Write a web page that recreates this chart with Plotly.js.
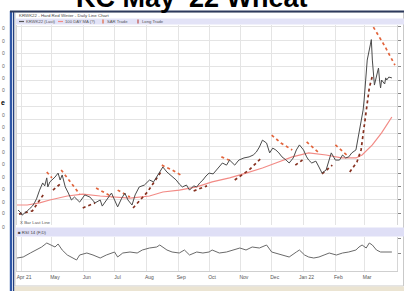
<!DOCTYPE html>
<html><head><meta charset="utf-8">
<script src="https://cdn.plot.ly/plotly-3.0.1.min.js"></script>
<style>html,body{margin:0;padding:0;background:#fff;}#chart{width:404px;height:291px;}</style>
</head><body><div id="chart"></div>
<script>
// ---------- data ----------
const monthTicks = ["2021-04-01","2021-05-01","2021-06-01","2021-07-01","2021-08-01","2021-09-01","2021-10-01","2021-11-01","2021-12-01","2022-01-01","2022-02-01","2022-03-01"];
const monthLabels = ["Apr 21","May","Jun","Jul","Aug","Sep","Oct","Nov","Dec","Jan 22","Feb","Mar"];

const priceDates = ["2021-03-29","2021-03-31","2021-04-02","2021-04-05","2021-04-07","2021-04-09","2021-04-12","2021-04-14","2021-04-16","2021-04-19",
"2021-04-22","2021-04-24","2021-04-26","2021-04-27","2021-04-29","2021-05-01","2021-05-04","2021-05-07","2021-05-09","2021-05-11",
"2021-05-14","2021-05-17","2021-05-20","2021-05-23","2021-05-28","2021-06-02","2021-06-07","2021-06-12","2021-06-17","2021-06-19",
"2021-06-23","2021-06-28","2021-07-01","2021-07-04","2021-07-08","2021-07-11","2021-07-14","2021-07-18","2021-07-21","2021-07-25",
"2021-07-30","2021-08-04","2021-08-08","2021-08-11","2021-08-14","2021-08-17","2021-08-21","2021-08-24","2021-08-27","2021-08-30",
"2021-09-02","2021-09-05","2021-09-09","2021-09-12","2021-09-16","2021-09-19","2021-09-22","2021-09-25","2021-09-28","2021-10-01",
"2021-10-05","2021-10-08","2021-10-11","2021-10-14","2021-10-18","2021-10-21","2021-10-26","2021-10-30","2021-11-04","2021-11-09",
"2021-11-13","2021-11-16","2021-11-19","2021-11-22","2021-11-26","2021-11-29","2021-12-02","2021-12-05","2021-12-08","2021-12-11",
"2021-12-15","2021-12-18","2021-12-22","2021-12-25","2021-12-28","2022-01-01","2022-01-04","2022-01-06","2022-01-09","2022-01-13",
"2022-01-16","2022-01-19","2022-01-23","2022-01-26","2022-01-28","2022-02-01","2022-02-05","2022-02-08","2022-02-11","2022-02-14",
"2022-02-17","2022-02-21","2022-02-24","2022-02-25","2022-02-28","2022-03-01","2022-03-02","2022-03-03","2022-03-04","2022-03-07",
"2022-03-08","2022-03-09","2022-03-10","2022-03-11","2022-03-14","2022-03-15","2022-03-16","2022-03-17","2022-03-18","2022-03-21",
"2022-03-22","2022-03-23","2022-03-25","2022-03-28"];
const priceValues = [6.11,6.04,5.92,6.00,6.08,6.15,6.26,6.38,6.53,6.86,
7.13,7.02,7.32,6.98,7.17,7.24,7.35,7.50,7.24,7.43,
6.98,6.75,6.49,6.60,6.41,6.68,6.60,6.38,6.49,6.26,
6.49,6.75,6.49,6.23,6.56,6.75,6.49,6.30,6.68,6.98,
7.05,7.24,7.17,7.35,7.54,7.73,7.54,7.43,7.32,7.24,
7.09,6.98,7.05,6.86,7.02,6.98,7.13,7.24,7.39,7.50,
7.47,7.62,7.77,7.88,7.80,7.99,7.80,7.99,8.07,8.11,
8.18,8.29,8.48,8.74,8.63,8.26,8.44,8.37,8.26,8.11,
7.99,7.88,8.07,8.37,8.56,8.37,8.11,7.99,7.88,7.95,
7.73,7.50,7.62,7.99,8.26,7.99,7.99,8.18,8.07,8.11,
8.26,8.37,9.01,9.31,9.87,10.25,10.81,11.38,11.75,12.32,
12.52,11.75,11.08,10.81,11.30,11.45,11.00,10.70,11.00,10.85,
11.08,11.00,11.11,11.08];

const maDates = ["2021-03-28","2021-04-07","2021-04-19","2021-04-29","2021-05-16","2021-05-31","2021-06-17","2021-07-01","2021-07-16","2021-08-04","2021-08-17","2021-09-02","2021-09-19","2021-10-04","2021-10-21","2021-11-06","2021-11-22","2021-12-05","2021-12-21","2022-01-06","2022-01-23","2022-02-07","2022-02-21","2022-02-27","2022-03-09","2022-03-18","2022-03-28"];
const maValues = [6.30,6.30,6.38,6.49,6.64,6.71,6.64,6.60,6.56,6.64,6.79,6.86,6.98,7.17,7.32,7.50,7.69,7.88,8.11,8.26,8.18,8.07,8.07,8.18,8.56,9.01,9.61];

// stop-and-reverse dots above price (short), segments separated by null
const sarShortDates = ["2021-04-26","2021-05-01",null,"2021-05-10","2021-05-18","2021-05-28",null,"2021-06-13","2021-06-29",null,"2021-07-04","2021-07-16",null,
"2021-08-16","2021-08-26","2021-09-05",null,"2021-10-13","2021-10-23",null,"2021-12-01","2021-12-10","2021-12-21",null,"2022-01-04","2022-01-16",null,
"2022-02-01","2022-02-14",null,"2022-03-10","2022-03-21","2022-03-31"];
const sarShortValues = [7.54,7.32,null,7.62,7.20,6.71,null,6.94,6.60,null,6.86,6.60,null,
7.80,7.62,7.39,null,8.11,7.95,null,8.93,8.63,8.37,null,8.67,8.26,null,
8.56,8.11,null,12.99,12.28,11.56];
// stop-and-reverse dots below price (long)
const sarLongDates = ["2021-03-30","2021-04-12","2021-04-23",null,"2021-05-02","2021-05-09",null,"2021-05-31","2021-06-12",null,
"2021-07-19","2021-08-02","2021-08-15",null,"2021-09-16","2021-09-29",null,"2021-10-26","2021-11-09","2021-11-21",null,
"2021-12-24","2021-12-31",null,"2022-01-19","2022-01-29",null,"2022-02-15","2022-02-22","2022-02-26","2022-03-02","2022-03-06","2022-03-09"];
const sarLongValues = [5.96,6.08,6.71,null,6.86,7.09,null,6.19,6.38,null,
6.19,6.79,7.54,null,6.83,7.02,null,7.24,7.62,8.07,null,
7.80,7.99,null,7.47,7.80,null,7.54,7.92,8.37,9.50,10.70,11.15];

const oscDates = ["2021-03-28","2021-04-03","2021-04-10","2021-04-16","2021-04-21","2021-04-26","2021-05-01","2021-05-04","2021-05-07","2021-05-11",
"2021-05-16","2021-05-20","2021-05-25","2021-05-28","2021-06-04","2021-06-10","2021-06-17","2021-06-23","2021-07-01","2021-07-04",
"2021-07-09","2021-07-16","2021-07-23","2021-07-28","2021-08-04","2021-08-11","2021-08-14","2021-08-21","2021-08-26","2021-09-02",
"2021-09-07","2021-09-12","2021-09-19","2021-09-25","2021-10-01","2021-10-04","2021-10-11","2021-10-18","2021-10-24","2021-10-31",
"2021-11-06","2021-11-12","2021-11-19","2021-11-26","2021-12-01","2021-12-05","2021-12-11","2021-12-18","2021-12-25","2021-12-28",
"2022-01-02","2022-01-06","2022-01-11","2022-01-16","2022-01-21","2022-01-26","2022-02-02","2022-02-08","2022-02-14","2022-02-21",
"2022-02-24","2022-02-27","2022-03-03","2022-03-06","2022-03-09","2022-03-13","2022-03-17","2022-03-22","2022-03-28"];
const oscValues = [36,38,46,52,58,66,62,58,64,52,
42,38,32,42,46,42,36,42,48,38,
46,48,46,52,56,58,62,52,48,46,
52,42,48,46,48,52,46,48,52,56,
52,58,56,62,48,46,42,38,48,52,
42,38,36,38,42,46,42,46,48,52,
58,62,56,66,62,52,48,48,48];

// ---------- layout helpers (pixel -> paper) ----------
const L = 17, R = 397, T = 25, B = 271;
const px = x => (x - L) / (R - L);
const py = y => (B - y) / (B - T);
const fam = "Liberation Sans, Arial, sans-serif";

const traces = [
  {x: maDates, y: maValues, type: 'scatter', mode: 'lines', line: {color: '#f28b86', width: 1.2}, xaxis: 'x', yaxis: 'y'},
  {x: sarShortDates, y: sarShortValues, type: 'scatter', mode: 'lines', connectgaps: false, line: {color: '#e2643c', width: 1.7, dash: 'dot'}, xaxis: 'x', yaxis: 'y'},
  {x: sarLongDates, y: sarLongValues, type: 'scatter', mode: 'lines', connectgaps: false, line: {color: '#86301f', width: 1.7, dash: 'dot'}, xaxis: 'x', yaxis: 'y'},
  {x: priceDates, y: priceValues, type: 'scatter', mode: 'lines', line: {color: '#4a4a4a', width: 1}, xaxis: 'x', yaxis: 'y'},
  {x: oscDates, y: oscValues, type: 'scatter', mode: 'lines', line: {color: '#6a6a6a', width: 1}, xaxis: 'x', yaxis: 'y2'}
];

const leftMarks = [28,41,53,66,78,90,115,127,139,152,164,177,189,202,213,227];

function note(text, x, y, xanchor, size, color, yanchor) {
  return {text: text, xref: 'paper', yref: 'paper', x: px(x), y: py(y), xanchor: xanchor, yanchor: yanchor || 'middle',
    showarrow: false, borderpad: 0, font: {family: fam, size: size, color: color}};
}
const annotations = [
  note("<b>KC May '22 Wheat</b>", 191, 13.5, 'center', 27, '#000', 'bottom'),
  note("KRWK22 - Hard Red Winter - Daily Line Chart", 18, 15.3, 'left', 4.4, '#444'),
  note("KRWK22 (Last)", 25, 21.5, 'left', 4.2, '#555'),
  note("100 DAY MA (?)", 64, 21.5, 'left', 4.2, '#555'),
  note("SAR Trade", 106, 21.5, 'left', 4.2, '#555'),
  note("Long Trade", 141, 21.5, 'left', 4.2, '#555'),
  note("X Bar Last Line", 19, 222, 'left', 4.4, '#555'),
  note("■ RSI 14 (F,D)", 17, 232, 'left', 4.4, '#444'),
  note("<b>e</b>", 0.3, 103, 'left', 7, '#000')
];
leftMarks.forEach(yy => annotations.push(note("0", 0.5, yy, 'left', 5, '#666')));

function paperRect(x0, x1, y0, y1, fill, layer) {
  return {type: 'rect', xref: 'paper', yref: 'paper', x0: px(x0), x1: px(x1), y0: py(y1), y1: py(y0), line: {width: 0}, fillcolor: fill, layer: layer || 'above'};
}
function paperLine(x0, x1, y0, y1, color, width) {
  return {type: 'line', xref: 'paper', yref: 'paper', x0: px(x0), x1: px(x1), y0: py(y0), y1: py(y1), line: {color: color, width: width}};
}
const shapes = [
  {type: 'rect', xref: 'paper', yref: 'paper', x0: px(15), x1: px(403.5), y0: py(286), y1: py(12), line: {color: '#c9c9c9', width: 1}, fillcolor: 'rgba(0,0,0,0)', layer: 'below'},
  paperRect(16, 404, 18.5, 24.5, '#e3e3f7', 'below'),
  paperRect(16, 404, 227.5, 236.5, '#dfdff6', 'below'),
  paperRect(14, 404, 286.5, 291, '#ebe4d2'),
  paperRect(9.8, 12.2, 11, 291, '#3058a8'),
  paperRect(13, 14.2, 11, 291, '#24407e'),
  paperLine(10, 404, 11.5, 11.5, '#2d3a5c', 2),
  paperLine(19, 24, 21.5, 21.5, '#555', 1.2),
  paperLine(58, 63, 21.5, 21.5, '#f28b86', 1.2),
  paperLine(103, 103, 19.5, 23.5, '#e2643c', 1.2),
  paperLine(138, 138, 19.5, 23.5, '#c0504a', 1.2)
];

const layout = {
  width: 404, height: 291, autosize: false,
  margin: {l: L, r: 404 - R, t: T, b: 291 - B, pad: 0},
  paper_bgcolor: '#ffffff', plot_bgcolor: '#ffffff',
  showlegend: false,
  xaxis: {type: 'date', range: ['2021-03-28', '2022-04-02'], anchor: 'y2',
    tickvals: monthTicks, ticktext: monthLabels, ticks: '', showgrid: true, gridcolor: '#e4e4e4', gridwidth: 1,
    showline: true, linecolor: '#cfcfcf', zeroline: false, ticklabelstandoff: 1, ticklabelshift: 3,
    tickfont: {family: fam, size: 5, color: '#555'}},
  yaxis: {domain: [py(225), 1], range: [5.549, 13.068], side: 'right', dtick: 0.5, tick0: 6,
    showgrid: true, gridcolor: '#e4e4e4', ticks: 'outside', ticklen: 3, tickcolor: '#888',
    showline: true, mirror: true, linecolor: '#d6d6d6', zeroline: false, showticklabels: false},
  yaxis2: {domain: [0, py(237)], range: [10, 78], side: 'right', tickvals: [46, 76],
    showgrid: false, ticks: 'outside', ticklen: 3, tickcolor: '#888', showticklabels: false,
    showline: true, mirror: true, linecolor: '#d6d6d6', zeroline: false},
  annotations: annotations, shapes: shapes
};

Plotly.newPlot('chart', traces, layout, {staticPlot: true, displayModeBar: false});
</script></body></html>
